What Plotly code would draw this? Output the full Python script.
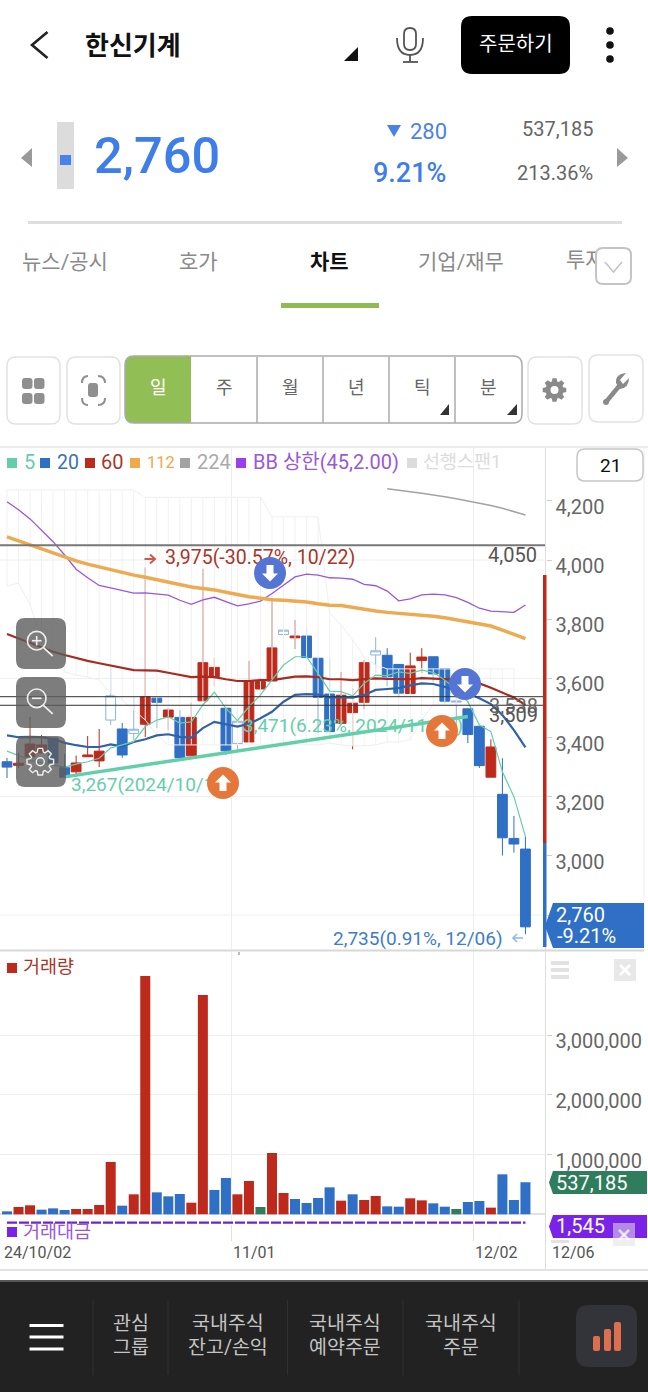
import numpy as np
import plotly.graph_objects as go

# daily data, 24/10/02 .. 12/06
trade_days = ['10/02', '10/04', '10/07', '10/08', '10/10', '10/11', '10/14', '10/15', '10/16', '10/17',
              '10/18', '10/21', '10/22', '10/23', '10/24', '10/25', '10/28', '10/29', '10/30', '10/31',
              '11/01', '11/04', '11/05', '11/06', '11/07', '11/08', '11/11', '11/12', '11/13', '11/14',
              '11/15', '11/18', '11/19', '11/20', '11/21', '11/22', '11/25', '11/26', '11/27', '11/28',
              '11/29', '12/02', '12/03', '12/04', '12/05', '12/06']
candle_kind = ['b', 'r', 'r', 'r', 'b', 'b', 'r', 'r', 'r', 'h', 'b', 'h', 'r', 'b', 'r', 'b', 'r', 'r', 'r', 'b',
               'h', 'r', 'r', 'r', 'h', 'r', 'b', 'b', 'b', 'r', 'r', 'r', 'h', 'b', 'b', 'r', 'r', 'b', 'b', 'h',
               'b', 'b', 'r', 'b', 'b', 'b']
opens = [3318, 3306, 3335, 3348, 3398, 3298, 3284, 3335, 3321, 3459, 3429, 3414, 3445, 3533, 3469, 3468, 3338, 3524,
         3606, 3499, 3380, 3385, 3564, 3591, 3748, 3737, 3743, 3668, 3547, 3448, 3484, 3519, 3679, 3678, 3647, 3549,
         3660, 3673, 3633, 3520, 3497, 3438, 3266, 3208, 3059, 3023]
highs = [3331, 3348, 3470, 3409, 3398, 3344, 3339, 3405, 3429, 3645, 3449, 3538, 3975, 3533, 3500, 3493, 3518, 3970,
         3669, 3499, 3500, 3659, 3604, 3872, 3763, 3797, 3775, 3668, 3669, 3622, 3568, 3662, 3739, 3702, 3647, 3687,
         3702, 3673, 3633, 3544, 3497, 3438, 3394, 3330, 3135, 3065]
lows = [3263, 3297, 3334, 3345, 3314, 3264, 3267, 3335, 3300, 3442, 3331, 3392, 3402, 3432, 3425, 3332, 3338, 3524,
        3574, 3341, 3358, 3385, 3527, 3591, 3638, 3699, 3665, 3415, 3405, 3442, 3360, 3496, 3618, 3574, 3538, 3549,
        3618, 3589, 3517, 3432, 3381, 3297, 3266, 3001, 3011, 2735]
closes = [3300, 3313, 3378, 3375, 3314, 3266, 3314, 3341, 3354, 3541, 3341, 3428, 3538, 3519, 3493, 3332, 3468, 3653,
          3637, 3355, 3455, 3590, 3589, 3703, 3763, 3743, 3670, 3536, 3420, 3543, 3516, 3653, 3693, 3605, 3550, 3642,
          3672, 3615, 3523, 3523, 3410, 3305, 3368, 3061, 3040, 2760]

ma5 = [3354, 3340, 3324, 3314, 3307, 3300, 3310, 3318, 3330, 3365, 3375, 3386, 3437, 3459, 3470, 3449, 3453, 3510,
       3553, 3499, 3457, 3504, 3544, 3594, 3645, 3673, 3673, 3617, 3557, 3555, 3541, 3583, 3611, 3609, 3622, 3617,
       3628, 3620, 3594, 3561, 3521, 3442, 3420, 3284, 3200, 3065]
ma20 = [3407, 3401, 3402, 3401, 3394, 3382, 3374, 3368, 3368, 3377, 3370, 3385, 3394, 3407, 3411, 3402, 3400, 3432,
        3453, 3446, 3437, 3446, 3465, 3487, 3521, 3544, 3547, 3545, 3536, 3536, 3535, 3544, 3561, 3564, 3567, 3576,
        3583, 3581, 3572, 3561, 3549, 3533, 3513, 3476, 3425, 3367]
ma60 = [3750, 3735, 3720, 3705, 3690, 3679, 3668, 3659, 3651, 3643, 3635, 3628, 3627, 3626, 3619, 3611, 3604, 3606,
        3604, 3597, 3591, 3591, 3594, 3594, 3600, 3606, 3607, 3604, 3597, 3597, 3594, 3598, 3600, 3598, 3597, 3597,
        3601, 3600, 3597, 3596, 3589, 3583, 3568, 3551, 3535, 3510]
ma112 = [4078, 4064, 4051, 4037, 4024, 4009, 3997, 3986, 3976, 3967, 3957, 3949, 3942, 3933, 3926, 3917, 3909, 3904,
         3899, 3891, 3882, 3876, 3871, 3866, 3864, 3861, 3858, 3852, 3847, 3846, 3839, 3833, 3828, 3823, 3820, 3817,
         3814, 3810, 3805, 3798, 3791, 3785, 3777, 3763, 3750, 3734]
ma224 = [4241, 4235, 4231, 4226, 4221, 4214, 4207, 4200, 4193, 4184, 4175, 4163, 4152]  # last 13 days only
bb_upper = [4197, 4170, 4139, 4101, 4062, 4017, 3969, 3940, 3914, 3906, 3896, 3888, 3889, 3886, 3881, 3864, 3850, 3865,
            3874, 3859, 3845, 3852, 3861, 3887, 3916, 3943, 3952, 3949, 3940, 3939, 3935, 3918, 3913, 3895, 3862, 3869,
            3882, 3885, 3882, 3873, 3857, 3837, 3827, 3824, 3823, 3848]
span_top = [4237, 4237, 4237, 4237, 4237, 4237, 4237, 4237, 4237, 4237, 4237, 4237, 4212, 4212, 4212, 4212, 4212, 4212,
            4212, 4212, 4212, 4212, 4212, 4146, 4146, 4146, 4146, 4146, 3821, 3780, 3730, 3672, 3645, 3632, 3632, 3632,
            3632, 3632, 3632, 3632, 3632, 3632, 3632, 3632, 3632]
span_bottom = [3912, 3922, 3848, 3730, 3662, 3621, 3611, 3605, 3594, 3550, 3527, 3493, 3459, 3409, 3375, 3375, 3375, 3375,
               3375, 3375, 3375, 3375, 3375, 3375, 3375, 3375, 3375, 3375, 3381, 3375, 3372, 3372, 3375, 3385, 3385, 3392,
               3459, 3510, 3510, 3510, 3510, 3510, 3510, 3510, 3510]

volume = [50000, 123000, 151000, 78000, 100000, 73000, 89000, 89000, 156000, 877000, 145000, 335000, 3992000, 368000,
          301000, 341000, 195000, 3674000, 408000, 609000, 335000, 558000, 123000, 1027000, 357000, 257000, 190000,
          274000, 452000, 229000, 335000, 240000, 307000, 134000, 128000, 268000, 234000, 184000, 128000, 89000,
          207000, 223000, 112000, 670000, 240000, 537185]
volume_dir = ['b', 'r', 'r', 'b', 'b', 'b', 'r', 'r', 'r', 'r', 'b', 'r', 'r', 'b', 'b', 'b', 'r', 'r', 'b', 'b',
              'r', 'r', 'g', 'r', 'r', 'b', 'b', 'b', 'b', 'r', 'b', 'r', 'r', 'b', 'b', 'r', 'r', 'b', 'b', 'g',
              'b', 'b', 'r', 'b', 'b', 'b']
amount_days = [0, 45]
amount = [1545, 1545]

trend_days = [5, 40]
trend_price = [3267, 3471]
level_lines = [4050, 3538, 3509]
price_ticks = [2800, 3000, 3200, 3400, 3600, 3800, 4000, 4200]
price_grid = [2800, 3200, 3600, 4000]
volume_ticks = [1000000, 2000000, 3000000]

RED = '#bd2a1c'
BLUE = '#2f6fc6'
PALE_BLUE = '#8fb3d9'
GREEN = '#2f7d5c'
MINT = '#63cfa9'
PURPLE = '#6f24cf'
KR = 'Roboto, "Noto Sans CJK KR", sans-serif'

x_idx = list(range(len(trade_days)))
COLS = {'r': RED, 'b': BLUE, 'g': GREEN}

fig = go.Figure()

# cloud drawn as pale verticals between the two spans
cloud_x, cloud_y = [], []
for i in range(len(span_top)):
    cloud_x += [i, i, None]
    cloud_y += [span_top[i], span_bottom[i], None]
fig.add_trace(go.Scatter(x=cloud_x, y=cloud_y, mode='lines', line=dict(color='#f1f1f1', width=1),
                         hoverinfo='skip', showlegend=False))
for span in (span_top, span_bottom):
    fig.add_trace(go.Scatter(x=x_idx[:len(span)], y=span, mode='lines', line=dict(color='#efefef', width=1),
                             hoverinfo='skip', showlegend=False))

# moving averages run behind the candles
for vals, col, w in ((ma224, '#a3a3a3', 1.5), (bb_upper, '#9a57d8', 1.3), (ma112, '#eeaa50', 3.5),
                     (ma60, '#a92a20', 2.2), (ma20, '#2f62ab', 2.2), (ma5, MINT, 1.2)):
    fig.add_trace(go.Scatter(x=x_idx[-len(vals):], y=vals, mode='lines', line=dict(color=col, width=w),
                             hoverinfo='skip', showlegend=False))

# candles, one trace per look
for kind, col, fill in (('r', RED, RED), ('b', BLUE, BLUE), ('h', PALE_BLUE, 'white')):
    ids = [i for i in x_idx if candle_kind[i] == kind]
    look = dict(line=dict(color=col, width=1), fillcolor=fill)
    fig.add_trace(go.Candlestick(x=ids, open=[opens[i] for i in ids], high=[highs[i] for i in ids],
                                 low=[lows[i] for i in ids], close=[closes[i] for i in ids],
                                 increasing=look, decreasing=look, showlegend=False))

fig.add_trace(go.Scatter(x=trend_days, y=trend_price, mode='lines', line=dict(color=MINT, width=3.5),
                         hoverinfo='skip', showlegend=False))

# volume panel
fig.add_trace(go.Bar(x=x_idx, y=volume, marker=dict(color=[COLS[d] for d in volume_dir], line_width=0), width=0.87,
                     xaxis='x2', yaxis='y2', showlegend=False))
fig.add_trace(go.Scatter(x=amount_days, y=amount, mode='lines', line=dict(color=PURPLE, width=2.2, dash='10px,2px'),
                         xaxis='x2', yaxis='y3', hoverinfo='skip', showlegend=False))

# labels that sit under the round buttons / floating boxes, so traces rather than annotations
under_x = [71, 243, 165, 566, 567, 567]
under_y = [786, 727, 559, 262, 1323, 1347]
under_text = ['3,267(2024/10/14)', '3,471(6.23%, 2024/11/29)', '3,975(-30.57%, 10/22)', '투자자', '주식', '현재가']
under_col = [MINT, MINT, '#a8362a', '#8a8a8a', '#ffffff', '#ffffff']
under_size = [19, 19, 19.5, 21, 19.5, 19.5]
under_pos = ['middle right', 'middle right', 'middle right', 'middle right', 'middle center', 'middle center']
fig.add_trace(go.Scatter(x=under_x, y=under_y, text=under_text, mode='text', textposition=under_pos,
                         textfont=dict(family=KR, size=under_size, color=under_col),
                         xaxis='x3', yaxis='y4', hoverinfo='skip', showlegend=False))

shapes, notes = [], []


def txt(x, y, s, size=18, color='#333', anchor='left', weight=None):
    notes.append(dict(x=x, y=y, xref='x3', yref='y4', text=s, showarrow=False, xanchor=anchor, yanchor='middle',
                      borderpad=0, font=dict(family=KR, size=size, color=color, weight=weight)))


def path(d, fill=None, line=None, w=1):
    shapes.append(dict(type='path', path=d, xref='x3', yref='y4', layer='above',
                       fillcolor=fill or 'rgba(0,0,0,0)', line=dict(color=line or 'rgba(0,0,0,0)', width=w if line else 0)))


def rrect(x0, y0, x1, y1, r, fill=None, line=None, w=1):
    d = (f'M{x0+r},{y0} L{x1-r},{y0} Q{x1},{y0} {x1},{y0+r} L{x1},{y1-r} Q{x1},{y1} {x1-r},{y1} '
         f'L{x0+r},{y1} Q{x0},{y1} {x0},{y1-r} L{x0},{y0+r} Q{x0},{y0} {x0+r},{y0} Z')
    path(d, fill, line, w)


def rect(x0, y0, x1, y1, fill):
    shapes.append(dict(type='rect', x0=x0, x1=x1, y0=y0, y1=y1, xref='x3', yref='y4', layer='above',
                       fillcolor=fill, line=dict(width=0)))


def seg(x0, y0, x1, y1, col, w=1):
    shapes.append(dict(type='line', x0=x0, x1=x1, y0=y0, y1=y1, xref='x3', yref='y4', layer='above',
                       line=dict(color=col, width=w)))


def circle(cx, cy, r, fill=None, line=None, w=1):
    shapes.append(dict(type='circle', x0=cx-r, x1=cx+r, y0=cy-r, y1=cy+r, xref='x3', yref='y4', layer='above',
                       fillcolor=fill or 'rgba(0,0,0,0)', line=dict(color=line or 'rgba(0,0,0,0)', width=w if line else 0)))


def gear(cx, cy, r_out, r_in, fill=None, line=None, w=1):
    pts = []
    for k in range(8):
        a = k * np.pi / 4
        for da, r in ((-0.30, r_in), (-0.17, r_out), (0.17, r_out), (0.30, r_in)):
            pts.append((cx + r*np.cos(a+da), cy + r*np.sin(a+da)))
    path('M' + ' L'.join(f'{px:.1f},{py:.1f}' for px, py in pts) + ' Z', fill, line, w)


def round_arrow(cx, cy, fill, up):
    s = -1 if up else 1
    circle(cx, cy, 16, fill)
    path(f'M{cx-3.5},{cy-8*s} L{cx+3.5},{cy-8*s} L{cx+3.5},{cy+0.5*s} L{cx+8},{cy+0.5*s} L{cx},{cy+8.5*s} '
         f'L{cx-8},{cy+0.5*s} L{cx-3.5},{cy+0.5*s} Z', 'white')


# price grid only every second tick, under the candles
for lv in price_grid:
    shapes.append(dict(type='line', xref='x domain', yref='y', x0=0, x1=1, y0=lv, y1=lv, layer='below',
                       line=dict(color='#eeeeee', width=1)))

# level lines go over the candles
for lv, col, w in zip(level_lines, ('#777777', '#333333', '#333333'), (2, 1, 1)):
    shapes.append(dict(type='line', xref='x domain', yref='y', x0=0, x1=1, y0=lv, y1=lv, layer='above',
                       line=dict(color=col, width=w)))

# chart frame
seg(0, 447, 648, 447, '#e6e6e6', 1.5)
seg(0, 950.5, 644, 950.5, '#d8d8d8', 2)
seg(0, 1270, 648, 1270, '#e2e2e2', 2)
seg(545.5, 448, 545.5, 1270, '#dddddd', 1)
seg(644, 447, 644, 950, '#eeeeee', 1)
rect(238, 952, 240, 955, '#bbbbbb')

# header
path('M47.5,32 L32,45 L47.5,58', None, '#222222', 2.6)
txt(84, 46, '<b>한신기계</b>', 26, '#111111')
path('M344,61 L358,61 L358,47 Z', '#111111')
rrect(404, 28, 416, 50, 6, None, '#555555', 1.8)
path('M397,38 Q397,55 410,55 Q423,55 423,38', None, '#555555', 1.8)
seg(410, 55, 410, 62, '#555555', 1.8)
seg(403, 62, 418, 62, '#555555', 1.8)
rrect(461, 16, 570, 74, 11, '#000000')
txt(515.5, 44, '주문하기', 20, '#ffffff', 'center')
for dot_y in (31, 45, 59):
    circle(610, dot_y, 3.8, '#111111')

# price strip
path('M32,148 L21,158 L32,167 Z', '#9a9a9a')
path('M617,148 L628,158 L617,167 Z', '#9a9a9a')
rect(57, 122, 74, 189, '#dcdcdc')
rect(60, 155, 71, 165, '#4a82ea')
txt(93, 155, '2,760', 50.5, '#3f7ee8', weight=500)
path('M387,125 L401,125 L394,137 Z', '#4a82ea')
txt(409, 131, '280', 22, '#4a82ea')
txt(372, 173, '9.21%', 27, '#3f7ee8', weight=500)
txt(594, 129, '537,185', 20, '#666666', 'right')
txt(594, 173, '213.36%', 20, '#666666', 'right')
seg(28, 222.5, 622, 222.5, '#dedede', 3)

# tabs
txt(21, 262, '뉴스/공시', 21, '#8a8a8a')
txt(178, 262, '호가', 21, '#8a8a8a')
txt(309, 262, '<b>차트</b>', 21, '#111111')
txt(417, 262, '기업/재무', 21, '#8a8a8a')
rrect(596, 248, 631, 284, 7, 'white', '#c4c4c4', 2)
path('M605,262 L613.5,272 L622,262', None, '#c4c4c4', 1.6)
rect(281, 303, 379, 308, '#8ebb52')

# toolbar
rrect(7, 357, 60, 424, 9, 'white', '#e2e2e2', 1.5)
for bx, by in ((22, 378), (34, 378), (22, 393), (34, 393)):
    rrect(bx, by, bx+10.5, by+11, 3, '#8f8f8f')
rrect(67, 357, 120, 424, 9, 'white', '#e2e2e2', 1.5)
rrect(88, 383, 98, 397, 3, '#8f8f8f')
for corner in ('M82,383 Q82,376 88,376', 'M98,376 Q105,376 105,383', 'M82,398 Q82,405 88,405',
               'M98,405 Q105,405 105,398'):
    path(corner, None, '#8f8f8f', 2)
rrect(125, 356, 522, 423, 9, 'white')
path('M191,356 L134,356 Q125,356 125,365 L125,414 Q125,423 134,423 L191,423 Z', '#92bf55')
for div_x in (257, 323, 389, 455):
    seg(div_x, 357, div_x, 423, '#ababab', 1.5)
rrect(125, 356, 522, 423, 9, None, '#ababab', 1.5)
for cell_x, cell in zip((158, 224, 290, 356, 422, 488), '일주월년틱분'):
    txt(cell_x, 387, cell, 18, '#ffffff' if cell == '일' else '#666666', 'center')
path('M440,415 L449,415 L449,404 Z', '#333333')
path('M507,415 L517,415 L517,404 Z', '#333333')
rrect(528, 357, 582, 424, 9, 'white', '#e2e2e2', 1.5)
gear(554.5, 390, 12, 9, '#8a8a8a')
circle(554.5, 390, 4, 'white')
rrect(589, 355, 643, 422, 9, 'white', '#e2e2e2', 1.5)
seg(606, 402, 620, 385, '#8a8a8a', 4.5)
path('M616,383 Q615,374 626,373 L620,380 L623,384 L629,378 Q629,388 620,389 Z', '#8a8a8a')
circle(606, 402, 3, '#8a8a8a')

# legend row
legend_row = ((7, 23, '5', 20, MINT), (40, 56, '20', 19.5, '#3a74b0'), (85, 100, '60', 20, '#a8362a'),
              (130, 146, '112', 16.5, '#efa94a'), (180, 196, '224', 20, '#aaaaaa'),
              (236, 252, 'BB 상한(45,2.00)', 20, '#9a57d8'), (407, 422, '선행스팬1', 18.5, '#dcdcdc'))
sq_cols = [MINT, BLUE, RED, '#efa94a', '#a3a3a3', '#9a3ff0', '#dcdcdc']
for (sq_x, tx_x, s, sz, col), sq in zip(legend_row, sq_cols):
    rect(sq_x, 458, sq_x+10, 468, sq)
    txt(tx_x, 462, s, sz, col)
rrect(577, 449, 643, 481, 8, 'white', '#c6c6c6', 1.5)
txt(610, 465, '21', 19, '#111111', 'center')

# chart texts
path('M144.5,559 L154,559 M150,554.5 L155,559 L150,563.5', None, '#cf5a4c', 2)
txt(538, 555, '4,050', 20, '#555555', 'right')
txt(539, 706, '3,538', 20, '#666666', 'right')
txt(539, 715, '3,509', 20, '#555555', 'right')
txt(332, 938, '2,735(0.91%, 12/06)', 19, '#3e7dc9')
path('M523,938 L513,938 M517,934 L513,938 L517,942', None, '#8fb8ea', 1.6)

# right hand price bar and tags
rect(543, 575, 546.5, 843, RED)
rect(543, 843, 546.5, 947, BLUE)
path('M553,903 L644,903 L644,948 L553,948 L545,926 Z', BLUE)
txt(555, 915, '2,760', 20, '#ffffff')
txt(556, 936, '-9.21%', 20, '#ffffff')
path('M553,1171 L647,1171 L647,1194 L553,1194 L549,1182.5 Z', GREEN)
txt(555, 1183, '537,185', 20, '#ffffff')
path('M553,1215 L647,1215 L647,1238 L553,1238 L549,1226.5 Z', '#7a22e8')
txt(555, 1226, '1,545', 20, '#ffffff')

# volume panel decorations
for bar_y in (963, 970, 977):
    rect(551, bar_y-2, 569, bar_y+2, '#e2e2e2')
rect(551, 1240, 569, 1243, '#e2e2e2')
rect(614, 959, 636, 981, '#e8e8e8')
seg(620, 965, 630, 975, '#ffffff', 2.5)
seg(630, 965, 620, 975, '#ffffff', 2.5)
rect(613, 1223, 635, 1246, 'rgba(225,225,225,0.55)')
seg(619, 1230, 629, 1240, 'rgba(255,255,255,0.7)', 2.5)
seg(629, 1230, 619, 1240, 'rgba(255,255,255,0.7)', 2.5)
rect(7, 963, 17, 973, RED)
txt(22, 967, '거래량', 18.5, '#a8362a')
rect(7, 1227, 17, 1237, '#7a22e8')
txt(22, 1232, '거래대금', 18.5, '#9a57d8')

# date labels start at their gridline rather than centre on it
for day_x, day_txt in ((3, '24/' + trade_days[0]), (232, trade_days[20]), (473.5, trade_days[41]), (551, trade_days[-1])):
    txt(day_x, 1252, day_txt, 16, '#555555')

# floating chart buttons
rrect(16, 618, 66, 669, 9, 'rgba(92,92,92,0.8)')
rrect(16, 677, 66, 728, 9, 'rgba(92,92,92,0.8)')
rrect(16, 736, 66, 787, 9, 'rgba(92,92,92,0.8)')
for mag_y in (640.7, 698.3):
    circle(36.7, mag_y, 9.3, None, '#eeeeee', 1.6)
    seg(43.5, mag_y+7, 52.7, mag_y+15.5, '#eeeeee', 1.8)
    seg(32, mag_y, 41.5, mag_y, '#eeeeee', 1.6)
seg(36.7, 636, 36.7, 645.5, '#eeeeee', 1.6)
gear(40.3, 761.7, 13.5, 10, None, '#eeeeee', 1.4)
circle(40.3, 761.7, 4, None, '#eeeeee', 1.4)
round_arrow(270, 573, '#5575d5', False)
round_arrow(465, 684, '#5575d5', False)
round_arrow(442, 731, '#e5773a', True)
round_arrow(223, 783, '#e5773a', True)

# bottom nav
rect(0, 1280, 648, 1392, '#222222')
rect(0, 1280, 648, 1282, '#555555')
for nav_y in (1325.5, 1337, 1349):
    seg(29.5, nav_y, 63.5, nav_y, '#ffffff', 3.2)
for sep_x in (93, 168, 287.5, 403, 519):
    seg(sep_x, 1300, sep_x, 1375, '#303030', 1)
nav_items = ((131, '관심', '그룹'), (228, '국내주식', '잔고/손익'), (345, '국내주식', '예약주문'), (461, '국내주식', '주문'))
for nav_x, l1, l2 in nav_items:
    txt(nav_x, 1323, l1, 19.5, '#c4c4c4', 'center')
    txt(nav_x, 1347, l2, 19.5, '#c4c4c4', 'center')
rrect(576, 1305, 637, 1367, 13, '#33343a')
for bx0, bx1, top in ((593, 600, 1336), (604, 611, 1329), (614, 621, 1322)):
    rrect(bx0, top, bx1, 1351, 2, '#dd6f4f')

PLOT_RIGHT = 545.5 / 648
fig.update_layout(
    width=648, height=1392, margin=dict(l=0, r=0, t=0, b=0, pad=0), paper_bgcolor='white',
    plot_bgcolor='rgba(0,0,0,0)',  # the full page overlay axes would paint over the charts otherwise
    showlegend=False, barmode='overlay', boxmode='overlay', boxgap=0.15, boxgroupgap=0, hovermode=False,
    font=dict(family=KR), shapes=shapes, annotations=notes,
    xaxis=dict(domain=[0, PLOT_RIGHT], range=[-0.608, 46.74], rangeslider_visible=False, tickvals=[19.5, 40.5],
               showticklabels=False, ticks='', showgrid=True, gridcolor='#eceef0', zeroline=False, anchor='y'),
    xaxis2=dict(domain=[0, PLOT_RIGHT], range=[-0.608, 46.74], anchor='y2', tickvals=[19.5, 40.5],
                showticklabels=False, ticks='outside', ticklen=16, tickcolor='#e0e0e0', showgrid=True,
                gridcolor='#eceef0', zeroline=False),
    xaxis3=dict(domain=[0, 1], range=[0, 648], visible=False, anchor='y4', fixedrange=True),
    yaxis=dict(domain=[1 - 950/1392, 1 - 448/1392], range=[2681.8, 4378.6], side='right', anchor='x',
               tickvals=price_ticks, ticktext=['' if t == 2800 else f'{t:,}' for t in price_ticks],
               ticks='outside', ticklen=5, tickcolor='#cfcfcf', ticklabelshift=6,
               tickfont=dict(family=KR, size=20, color='#666666'), showgrid=False, zeroline=False),
    yaxis2=dict(domain=[1 - 1224/1392, 1 - 951/1392], range=[-162000, 4410000], side='right', anchor='x2',
                tickvals=volume_ticks, ticktext=[f'{t:,}' for t in volume_ticks], ticks='outside', ticklen=5,
                tickcolor='#cfcfcf', ticklabelshift=6,
                tickfont=dict(family=KR, size=20, color='#666666'), gridcolor='#eeeeee', showgrid=True,
                zeroline=True, zerolinecolor='#e2e2e2', zerolinewidth=2),
    yaxis3=dict(domain=[1 - 1224/1392, 1 - 951/1392], range=[1530, 4680], overlaying='y2', visible=False),
    yaxis4=dict(domain=[0, 1], range=[1392, 0], visible=False, anchor='x3', fixedrange=True),
)

fig.write_html('out.html', post_script="document.body.style.margin='0';", config={'displayModeBar': False})
